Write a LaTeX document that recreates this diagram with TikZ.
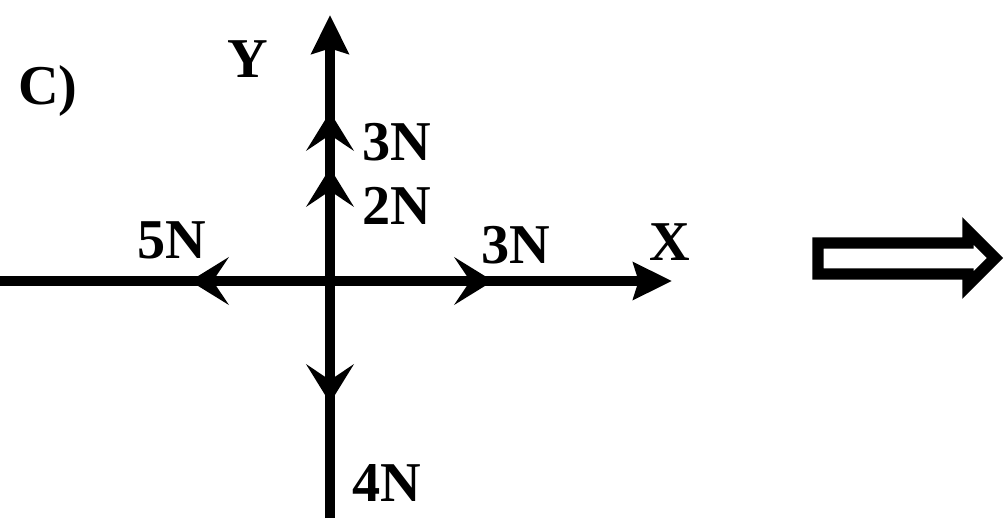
\documentclass[tikz,border=0pt]{standalone}
\usepackage{fontspec}
\setmainfont{Liberation Serif}
\usepackage{tikz}
\usetikzlibrary{arrows.meta}

\begin{document}
\begin{tikzpicture}[x=0.02cm,y=-0.02cm,
  axis/.style={line width=5.5pt,-{Stealth[length=22pt,width=21pt,inset=3pt]}},
  force/.style={line width=5.5pt,-{Stealth[length=22pt,width=27pt,inset=9pt]}},
  lbl/.style={font=\fontsize{32}{36}\selectfont\bfseries,inner sep=0pt}]
  \useasboundingbox (0,0) rectangle (1004,518);
  % axes
  \coordinate (O) at (330,281);
  \coordinate (xl) at (0,281);
  \coordinate (xr) at (672,281);
  \coordinate (yb) at (330,518);
  \coordinate (yt) at (330,15);
  \draw[axis] (xl) -- (xr);
  \draw[axis] (yb) -- (yt);
  % forces from the origin
  \foreach \n/\x/\y in {f5/190/281,f3x/493/281,f3y/330/112,f2/330/168,f4/330/403}
    \coordinate (\n) at (\x,\y);
  \foreach \n in {f5,f3x,f3y,f2,f4} \draw[force] (O) -- (\n);
  % labels
  \node[lbl] (c) at (48,91) {C)};
  \node[lbl] (ylab) at (248,59) {Y};
  \node[lbl] (xlab) at (670,242) {X};
  \node[lbl] (l3y) at (397,142) {3N};
  \node[lbl] (l2) at (397,206) {2N};
  \node[lbl] (l5) at (172,240) {5N};
  \node[lbl] (l3x) at (516,245) {3N};
  \node[lbl] (l4) at (387,483) {4N};
  % hollow arrow
  \draw[line width=6.5pt,line join=miter] (818,243) -- (968,243) -- (968,231) -- (995,258)
    -- (968,285) -- (968,274) -- (818,274) -- cycle;
\end{tikzpicture}
\end{document}
